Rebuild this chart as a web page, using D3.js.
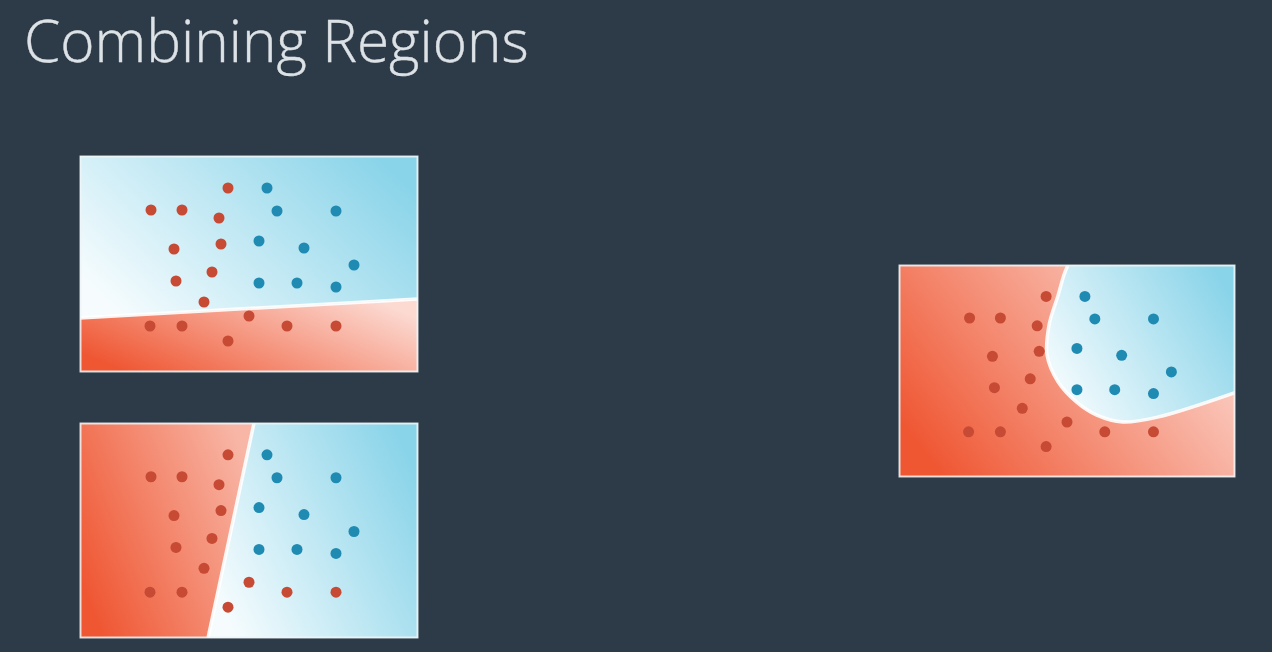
<!DOCTYPE html>
<html>
<head>
<meta charset="utf-8">
<script src="https://cdn.jsdelivr.net/npm/d3@7"></script>
<style>
  html, body { margin: 0; padding: 0; background: #2d3a48; }
  svg { display: block; }
</style>
</head>
<body>
<script>
// shared point set, in panel units (0..338 wide, 0..216 tall)
const redPoints = [
  [148, 32], [71, 54], [102, 54], [139, 62], [94, 93], [141, 88], [132, 116],
  [96, 125], [124, 146], [70, 170], [102, 170], [169, 160], [207, 170],
  [256, 170], [148, 185]
];
const bluePoints = [
  [187, 32], [197, 55], [256, 55], [179, 85], [224, 92], [274, 109],
  [179, 127], [217, 127], [256, 131]
];

// decision boundaries, same units
const lineHorizontal = [[0, 162], [338, 143]];
const lineVertical = [[174, 0], [128, 216]];
const curveCombined = [
  [170, 0], [166, 10], [160, 31], [151, 61], [149, 92], [160, 119],
  [179, 140], [199, 153], [225, 160], [260, 155], [338, 130]
];

// corners that close each region on either side of the boundary
const blueCornersH = [[338, 0], [0, 0]];
const redCornersH = [[338, 216], [0, 216]];
const blueCornersV = [[338, 216], [338, 0]];
const redCornersV = [[0, 216], [0, 0]];
const blueCornersC = [[338, 0]];
const redCornersC = [[338, 216], [0, 216], [0, 0]];

const W = 1272, H = 652;
const svg = d3.select("body").append("svg").attr("width", W).attr("height", H);

svg.append("rect").attr("width", W).attr("height", H).attr("fill", "#2d3a48");

svg.append("text")
  .attr("x", 24).attr("y", 62)
  .attr("font-family", "'Open Sans', sans-serif")
  .attr("font-weight", 300)
  .attr("font-size", "58.5px")
  .attr("fill", "#dde2e6")
  .attr("stroke", "#dde2e6")
  .attr("stroke-width", 0.4)
  .text("Combining Regions");

const defs = svg.append("defs");
const grad = (id, c0, c1) => {
  const g = defs.append("linearGradient").attr("id", id)
    .attr("x1", 0).attr("y1", 0.75).attr("x2", 1).attr("y2", 0.25);
  g.append("stop").attr("offset", "0%").attr("stop-color", c0);
  g.append("stop").attr("offset", "100%").attr("stop-color", c1);
};
grad("gRed", "#ef5632", "#fcdad2");
grad("gRedNarrow", "#ef5632", "#f8b6a6");
grad("gBlue", "#f6fcfe", "#8ad4e9");

const panels = [
  { x: 80, y: 156, w: 338, h: 216, boundary: lineHorizontal, blue: blueCornersH, red: redCornersH, redFill: "gRed", curve: d3.curveLinear },
  { x: 80, y: 423, w: 338, h: 215, boundary: lineVertical, blue: blueCornersV, red: redCornersV, redFill: "gRedNarrow", curve: d3.curveLinear },
  { x: 899, y: 265, w: 336, h: 212, boundary: curveCombined, blue: blueCornersC, red: redCornersC, redFill: "gRed", curve: d3.curveCatmullRom }
];

panels.forEach((p, i) => {
  const sx = d3.scaleLinear().domain([0, 338]).range([0, p.w]);
  const sy = d3.scaleLinear().domain([0, 216]).range([0, p.h]);
  const g = svg.append("g").attr("transform", `translate(${p.x},${p.y})`);

  defs.append("clipPath").attr("id", "clip" + i)
    .append("rect").attr("width", p.w).attr("height", p.h);
  const inner = g.append("g").attr("clip-path", `url(#clip${i})`);

  const line = d3.line().x(d => sx(d[0])).y(d => sy(d[1])).curve(p.curve);
  const edge = line(p.boundary);
  const close = pts => pts.map(d => `L${sx(d[0])},${sy(d[1])}`).join("") + "Z";

  inner.append("path")
    .attr("d", edge + close(p.red))
    .attr("fill", `url(#${p.redFill})`);

  inner.append("path")
    .attr("d", edge + close(p.blue))
    .attr("fill", "url(#gBlue)");

  inner.append("path")
    .attr("d", edge)
    .attr("fill", "none")
    .attr("stroke", "#ffffff")
    .attr("stroke-opacity", 0.9)
    .attr("stroke-width", 3.5);

  inner.selectAll("circle.red").data(redPoints).join("circle")
    .attr("class", "red")
    .attr("cx", d => sx(d[0])).attr("cy", d => sy(d[1]))
    .attr("r", 5.5).attr("fill", "#c64a34");

  inner.selectAll("circle.blue").data(bluePoints).join("circle")
    .attr("class", "blue")
    .attr("cx", d => sx(d[0])).attr("cy", d => sy(d[1]))
    .attr("r", 5.5).attr("fill", "#1f8bb2");

  g.append("rect")
    .attr("x", 0.5).attr("y", 0.5)
    .attr("width", p.w - 1).attr("height", p.h - 1)
    .attr("fill", "none")
    .attr("stroke", "#eef4f7")
    .attr("stroke-opacity", 0.85)
    .attr("stroke-width", 2);
});
</script>
</body>
</html>
